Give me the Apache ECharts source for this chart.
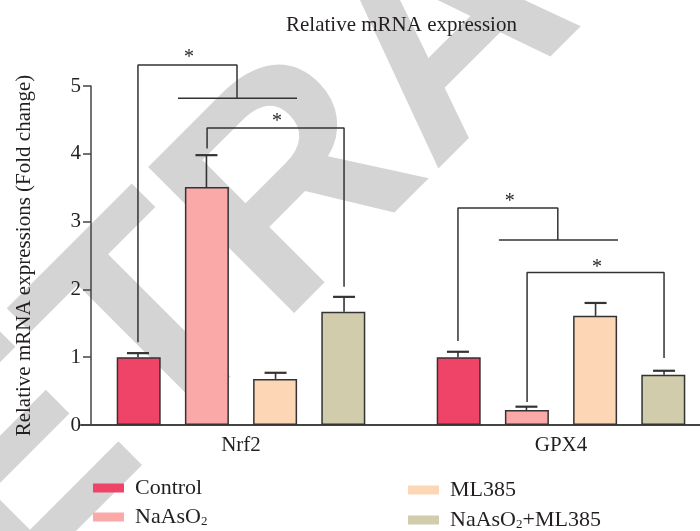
<!DOCTYPE html>
<html><head><meta charset="utf-8">
<script src="https://cdn.jsdelivr.net/npm/echarts@6/dist/echarts.min.js"></script>
<style>html,body{margin:0;padding:0;background:#fff}#c{width:700px;height:531px}</style>
</head><body><div id="c"></div>
<script>
const categories = ['Nrf2', 'GPX4'];
const seriesNames = ['Control', 'NaAsO2', 'ML385', 'NaAsO2+ML385'];
const controlValues = [1.00, 1.00];
const naaso2Values = [3.51, 0.22];
const ml385Values = [0.68, 1.61];
const comboValues = [1.67, 0.74];
const controlErrors = [0.06, 0.08];
const naaso2Errors = [0.47, 0.05];
const ml385Errors = [0.09, 0.19];
const comboErrors = [0.22, 0.06];
const yTicks = [0, 1, 2, 3, 4, 5];
// significance brackets: x in category units (0..2), y in fold change
const bracketPaths = [
  [[0.178, 1.22], [0.178, 5.31], [0.4875, 5.31], [0.4875, 4.82]],
  [[0.303, 4.82], [0.675, 4.82]],
  [[0.394, 4.08], [0.394, 4.38], [0.822, 4.38], [0.822, 2.04]],
  [[1.178, 1.24], [1.178, 3.20], [1.49, 3.20], [1.49, 2.73]],
  [[1.306, 2.73], [1.678, 2.73]],
  [[1.394, 0.34], [1.394, 2.25], [1.822, 2.25], [1.822, 0.99]]
];
const starMarks = [[0.3375, 5.42], [0.6125, 4.48], [1.34, 3.30], [1.6125, 2.32]];
const watermarkText = 'RETRACTED';

const values = [controlValues, naaso2Values, ml385Values, comboValues];
const errors = [controlErrors, naaso2Errors, ml385Errors, comboErrors];
const colors = ['#ef4367', '#fba8a8', '#fdd6b6', '#d0ccac'];
const barOffsets = [-0.322, -0.108, 0.108, 0.322];
const FONT = '"Liberation Serif", "Times New Roman", serif';
const TXT = '#231f20';
const WF = 300;
const WROT = 45;

const chart = echarts.init(document.getElementById('c'), null, {renderer: 'canvas'});

const series = [];
seriesNames.forEach((name, s) => {
  series.push({
    name: name, type: 'bar', xAxisIndex: 0, yAxisIndex: 0,
    data: values[s], barWidth: 44, barGap: '55%',
    itemStyle: {color: colors[s], borderColor: '#333', borderWidth: 1.5},
    z: 3
  });
});
seriesNames.forEach((name, s) => {
  series.push({
    type: 'custom', xAxisIndex: 1, yAxisIndex: 0, silent: true, z: 4,
    data: values[s].map((v, c) => [c + 0.5 + barOffsets[s], v, v + errors[s][c]]),
    renderItem: function (params, api) {
      const p0 = api.coord([api.value(0), api.value(1)]);
      const p1 = api.coord([api.value(0), api.value(2)]);
      return {type: 'group', children: [
        {type: 'line', shape: {x1: p0[0], y1: p0[1], x2: p1[0], y2: p1[1]}, style: {stroke: '#333', lineWidth: 1.6}},
        {type: 'line', shape: {x1: p1[0] - 11, y1: p1[1], x2: p1[0] + 11, y2: p1[1]}, style: {stroke: '#333', lineWidth: 2.2}}
      ]};
    }
  });
});
bracketPaths.forEach(path => {
  series.push({
    type: 'line', xAxisIndex: 1, yAxisIndex: 0, data: path, symbol: 'none',
    silent: true, clip: false, z: 5,
    lineStyle: {color: '#333', width: 1.5}
  });
});
series.push({
  type: 'custom', xAxisIndex: 1, yAxisIndex: 0, silent: true, clip: false, z: 5,
  data: starMarks,
  renderItem: function (params, api) {
    const p = api.coord([api.value(0), api.value(1)]);
    return {type: 'text', x: p[0], y: p[1], style: {text: '*', font: '20px ' + FONT, fill: TXT, align: 'center', verticalAlign: 'middle'}};
  }
});

function legendFor(name, left, top) {
  return {
    data: [name], left: left, top: top, orient: 'vertical', padding: 0,
    itemWidth: 31, itemHeight: 9, icon: 'rect',
    itemStyle: {borderWidth: 0},
    formatter: n => n.replace(/O2/g, 'O{sub|2}'),
    textStyle: {fontFamily: FONT, fontSize: 22, color: TXT, padding: [0, 0, 0, 6],
      rich: {sub: {fontFamily: FONT, fontSize: 13, color: TXT, padding: [10, 0, 0, 0]}}}
  };
}

chart.setOption({
  animation: false,
  backgroundColor: '#fff',
  title: {text: 'Relative mRNA expression', left: 281, top: 10,
    textStyle: {fontFamily: FONT, fontSize: 21, fontWeight: 'normal', color: TXT}},
  grid: {left: 81, top: 86, width: 640, bottom: 106, containLabel: false, outerBoundsMode: 'none'},
  legend: [
    legendFor('Control', 93, 477),
    legendFor('NaAsO2', 93, 506),
    legendFor('ML385', 408, 479),
    legendFor('NaAsO2+ML385', 408, 509)
  ],
  xAxis: [
    {type: 'category', data: categories, gridIndex: 0,
      axisLine: {lineStyle: {color: '#444', width: 2}},
      axisTick: {alignWithLabel: true, length: 5, lineStyle: {color: '#444', width: 1.5}},
      axisLabel: {fontFamily: FONT, fontSize: 21, color: TXT, margin: 10}},
    {type: 'value', min: 0, max: 2, show: false, gridIndex: 0}
  ],
  yAxis: {
    type: 'value', min: yTicks[0], max: yTicks[yTicks.length - 1], interval: 1, offset: -10,
    name: 'Relative mRNA expressions (Fold change)', nameLocation: 'middle', nameGap: 56,
    nameTextStyle: {fontFamily: FONT, fontSize: 21, color: TXT},
    axisLine: {show: true, lineStyle: {color: '#444', width: 1.5}},
    axisTick: {show: true, length: 8, lineStyle: {color: '#444', width: 1.5}},
    axisLabel: {fontFamily: FONT, fontSize: 21, color: TXT, margin: 10},
    splitLine: {show: false}
  },
  graphic: [{
    type: 'group', x: 298, y: 192, rotation: WROT * Math.PI / 180, z: -10, silent: true,
    children: [{type: 'text', x: -2.361 * WF, y: 0, z: -10,
      style: {text: watermarkText, font: 'bold ' + WF + 'px "Liberation Sans", Arial, sans-serif', fill: '#d4d4d4', align: 'left', verticalAlign: 'middle'}}]
  }],
  series: series
});
</script></body></html>
